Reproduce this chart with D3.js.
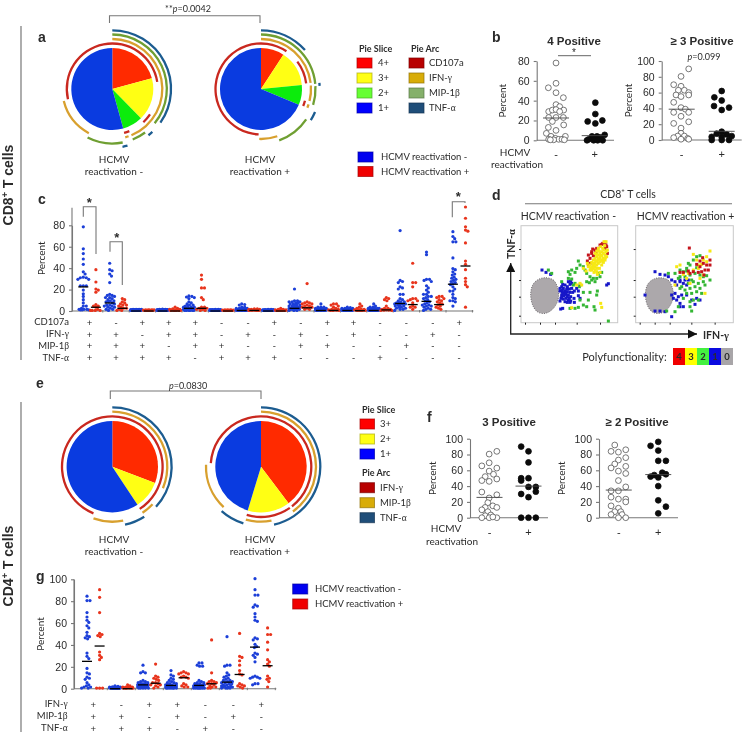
<!DOCTYPE html>
<html><head><meta charset="utf-8">
<script src="https://cdnjs.cloudflare.com/ajax/libs/d3/7.8.5/d3.min.js"></script>
<style>
html,body{margin:0;padding:0;background:#fff}
svg{display:block;filter:blur(.3px)}
text{fill:#2b2b2b}
.sans{font-family:"Liberation Sans",Arial,sans-serif}
.cal{font-family:Lato,"Open Sans",sans-serif}
</style></head><body><svg id="c" width="744" height="734"></svg>
<script>
// ---------- pie data (percent of responding cells) ----------
const pieA = [[20.8,16.9,8,54.3],[9.2,14.2,7.9,68.7]];
const pieE = [[30.8,9.9,59.3],[39.7,15,45.3]];
const sliceColorsA = ["#ff2a00","#ffff14","#0cec0c","#0a3be0"];
const sliceColorsE = ["#ff2a00","#ffff14","#0a3be0"];
const sliceNamesA = ["4+","3+","2+","1+"];
const sliceNamesE = ["3+","2+","1+"];
const arcNamesA = ["CD107a","IFN-γ","MIP-1β","TNF-α"];
const arcNamesE = ["IFN-γ","MIP-1β","TNF-α"];
// arc spans in degrees clockwise from 12 o'clock
const arcsAminus = [
  [[257,441],[124,137],[158,165]],
  [[0,157.5],[161,165],[208,256]],
  [[0,129],[143,158],[169,207]],
  [[0,125],[137,142],[165,170]]];
const arcsAplus = [
  [[183,394],[53,83],[105,112]],
  [[0,83],[86,104],[108,112],[161,182]],
  [[0,84.5],[87,107],[124,160.5]],
  [[0,48.5],[84,87],[113,122]]];
const arcsEminus = [
  [[202,507]],
  [[0,113],[133,146.7],[168.6,200]],
  [[0,132.5],[147.4,167.6]]];
const arcsEplus = [
  [[274,502],[145,196.5]],
  [[0,144.5],[169,196],[222.8,272]],
  [[0,167.3],[197.3,221.6]]];
const reactLabels = ["HCMV reactivation -","HCMV reactivation +"];

// ---------- scatter data: [jitter, percent] ----------
const b4Minus = [[0,78],[0,57.5],[-23,53],[0,48],[22,43],[0,36],[11,34],[23,30.5],[-22,29],[-11,30.5],[0,31],[11,29],[-22,23],[0,23],[22,23],[-11,19],[23,15.5],[-23,13],[0,10],[-29,7],[28,4],[-15,4],[-2,2],[-22,1],[8,1],[18,1],[25,0.5],[-7,0.5],[-17,0.5]];
const b4Plus = [[2,38],[2,26.5],[-21,19],[2,17],[23,20],[30,5.5],[-8,4],[7,4],[17,3],[-18,1],[-23,0],[-3,0],[9,0],[24,0]];
const b3Minus = [[21,90],[-2,80.5],[-24,70],[-2,68],[-10,63],[8,63],[21,60],[-17,57],[-2,55],[21,57],[-24,47.7],[-2,41],[11,39],[-24,35],[21,35],[-2,30],[21,23],[-24,21],[-2,15],[-2,8.5],[-12,5],[8,5],[-24,3],[18,2],[-2,1],[21,1]];
const b3Plus = [[0,62],[-22,54],[0,50],[-23,43],[22,41],[0,38],[0,10.5],[-15,8],[15,7],[-30,4],[30,5],[0,4],[-30,0],[0,0],[22,0]];
const f3Minus = [[22,84],[-1,80.5],[-23,65.6],[-1,69.5],[22,62.8],[-1,59],[12,55],[-13,52],[22,49],[-23,47],[-1,46],[-23,32.5],[22,29],[-1,25],[-5,19],[10,15],[22,13],[-13,13],[-23,10],[-5,7.6],[4,3.4],[-13,2.5],[-23,0],[-1,0],[22,0],[10,1]];
const f3Plus = [[-22,90],[0,84],[0,70],[-22,50],[0,50],[-22,47],[0,39],[22,39],[22,33],[-22,30],[0,26],[-22,0],[0,0],[22,0]];
const f2Minus = [[-12,92],[-23,84],[-1,83],[21,86],[21,76],[-1,73],[-12,68],[-23,63],[21,65],[-1,59],[21,56],[-1,47],[21,39],[-23,34],[-1,34],[-23,26],[-1,23.5],[21,23.5],[21,20],[-23,15],[-1,12],[-12,7.6],[6,7.6],[-23,4],[10,4],[-1,0],[21,0]];
const f2Plus = [[-23,91],[0,96],[0,85],[0,72],[23,72],[-23,52],[-12,54],[0,51],[12,57],[23,55],[0,40],[0,22],[23,14],[0,5.5]];
const swarmMedians = {b4:[22.5,4.7], b3:[39,11], f3:[25.7,40], f2:[35,54.6]};
const signLabels = ["-","+"];

// ---------- panel c ----------
const cBlue = [
  b4Minus.map(d=>d[1]),
  [44,38,37,34,32,26,15,14,14,13,12,12,11,10,9,9,8,8,7,6,5,5,4,4,3,3,2,1,1,0],
  [1,1,1,1,.8,.8,.8,.6,.6,.6,.5,.5,.5,.4,.4,.4,.3,.3,.3,.2,.2,.2,.1,.1,.1,0,0,0,0,0],
  [1.2,1,1,.8,.8,.7,.6,.6,.5,.5,.5,.4,.4,.4,.3,.3,.2,.2,.2,.1,.1,.1,0,0,0,0,0,0,0,0],
  [13.5,13,12.5,12,11,8,7,6,5,5,4,4,3,3,3,2,2,2,2,1,1,1,1,1,0,0,0,0,0,0],
  [1,1,.8,.8,.7,.6,.6,.5,.5,.5,.4,.4,.3,.3,.3,.2,.2,.2,.1,.1,.1,0,0,0,0,0,0,0,0,0],
  [6,5.5,5,3,3,2,2,2,2,1,1,1,1,1,.8,.6,.5,.5,.4,.3,.3,.2,.2,.1,.1,0,0,0,0,0],
  [1,1,.8,.7,.6,.6,.5,.5,.4,.4,.3,.3,.2,.2,.2,.1,.1,.1,0,0,0,0,0,0,0,0,0,0,0,0],
  [20,9,9,8,8,8,7,7,6,6,5,5,5,4,4,4,3,3,3,2,2,2,2,1,1,1,1,0,0,0],
  [6,3,3,3,2,2,2,2,2,1,1,1,1,1,1,.8,.8,.6,.6,.4,.4,.3,.2,.2,.1,.1,0,0,0,0],
  [3,2.5,2,2,2,1.5,1.5,1,1,1,1,.8,.8,.6,.6,.5,.4,.4,.3,.3,.2,.2,.1,.1,0,0,0,0,0,0],
  [6,4,3,3,2,2,2,2,1.5,1.5,1,1,1,1,.8,.8,.6,.5,.4,.3,.3,.2,.2,.1,0,0,0,0,0,0],
  [74.5,28,27,26,22,21,20,15,15,11,10,9,8,8,7,7,6,6,6,5,5,4,4,3,3,2,2,1,1,0],
  [54.5,52,29,29,28,27,23,21,19,17,15,15,13,13,12,11,10,9,8,7,6,5,5,4,4,3,2,1,1,0],
  [73.5,69,67,64,64,49,39,38,36,34,33,31,30,29,28,27,26,25,24,22,20,18,18,15,12,11,9,9,8,4]];
const cRed = [
  b4Plus.map(d=>d[1]),
  [11,10,8,7,6,5,5,4,3,2,2,1,0,0],
  [.6,.5,.5,.4,.3,.3,.2,.2,.1,.1,0,0,0,0],
  [3,2,1.5,1,1,.5,.4,.3,.2,.1,0,0,0,0],
  [33,29,21,21,12,10,3,3,2,2,1,1,0,0],
  [.5,.5,.4,.3,.3,.2,.2,.1,.1,0,0,0,0,0],
  [1.5,1.5,1,1,1,.5,.4,.3,.3,.2,.1,0,0,0],
  [2,1,1,.6,.5,.4,.3,.2,.1,0,0,0,0,0],
  [25,8,7,7,6,6,5,4,4,3,3,2,1,1],
  [6,6,5,4,3,2,1,1,.5,.4,.2,0,0,0],
  [6,4,3,2,1,1,.6,.5,.3,.2,.1,0,0,0],
  [12,11,10,9,4,2,2,1,1,.5,.3,.2,0,0],
  [44,26,26,22,11,11,10,9,9,7,4,3,3,1],
  [13,13,12,11,10,9,8,7,6,5,4,3,2,1],
  [96.5,86,78,75,74,63,46,43,38,30,27,24,22,3]];
const cMedBlue = [22.5,7.5,0,0,2.5,0,.5,0,2.5,.5,.5,.5,7,9,25];
const cMedRed = [3.5,2.5,0,0,2.5,0,.5,0,3,.5,.3,1,6,6,42];
const cRowNames = ["CD107a","IFN-γ","MIP-1β","TNF-α"];
const cRows = ["+-+++--+-++---+","++-++-+-+-+--+-","+++-++--++--+--","++++-+++---+---"];

// ---------- panel g ----------
const gBlue = [
  [84,80,80,69,65,62,60,57,55,51,48,47,46,45,32,29,27,18,14,13,10,9,8,5,3,2,1,1,0,0],
  [2,1.5,1.2,1,1,.8,.8,.7,.6,.6,.5,.5,.4,.4,.3,.3,.2,.2,.1,.1,0,0,0,0,0,0,0,0,0,0],
  [21,15,14,14,7,6,6,5,5,4,4,4,3,3,3,3,2,2,2,2,1,1,1,1,1,0,0,0,0,0],
  [16,12,11,9,8,7,6,5,5,4,4,3,3,3,2,2,2,2,1,1,1,1,1,0,0,0,0,0,0,0],
  [23,23,21,20,20,7,6,5,5,4,4,3,3,3,2,2,2,1,1,1,1,1,0,0,0,0,0,0,0,0],
  [47,21,21,20,14,12,11,10,9,8,7,7,6,6,5,5,4,4,3,3,2,2,2,1,1,1,0,0,0,0],
  [100,90,85,85,76,75,74,68,65,62,61,46,45,44,40,38,37,32,31,30,28,24,11,10,10,9,9,4,4,3]];
const gRed = [
  [90,83,69,50,49,48,47,33,30,28,26,0,0,0],
  [3,2,1,1,.8,.6,.5,.3,.2,.1,0,0,0,0],
  [22,11,10,9,8,7,5,5,4,3,3,2,1,0],
  [15,14,14,13,13,11,10,10,9,4,3,2,1,1],
  [44,14,7,6,6,5,4,4,3,2,1,1,0,0],
  [50,29,28,25,21,16,13,12,4,3,2,2,1,0],
  [55,49,49,42,35,26,24,22,20,11,9,8,6,1]];
const gMedBlue = [25,0,3.5,3,3,6,38];
const gMedRed = [39,0,5,10,4.5,13,21];
const gRowNames = ["IFN-γ","MIP-1β","TNF-α"];
const gRows = ["+-++--+","++-+-+-","+++-+--"];

// ---------- panel d events: [IFN channel, TNF channel] ----------
const dGateL = [[195,278],[220,285],[232,305],[236,330],[230,355],[215,375],[195,385],[175,382],[160,365],[152,330],[158,300],[172,285]];
const dGateR = [[539,278],[564,285],[576,305],[580,330],[574,355],[559,375],[539,385],[519,382],[504,365],[496,330],[502,300],[516,285]];
const dBlueL = [[245,305],[250,310],[255,300],[262,305],[270,298],[275,310],[240,318],[247,322],[255,318],[262,320],[270,322],[245,330],[252,332],[258,328],[265,330],[272,335],[243,340],[250,342],[258,340],[265,345],[272,348],[240,310],[248,298],[278,322],[283,318],[290,310],[255,350],[262,352],[270,352],[240,348],[247,315],[260,312],[268,312],[255,325],[250,325],[262,335],[245,336],[268,340],[275,295],[265,290],[272,288],[186,255],[198,262],[212,268],[282,340],[248,370],[242,372],[385,296],[380,300],[295,332],[300,340],[283,352],[300,300],[295,318]];
const dGreenL = [[265,260],[275,255],[270,268],[285,262],[295,228],[310,245],[300,240],[290,250],[315,255],[320,265],[330,275],[335,285],[345,290],[350,280],[360,275],[340,280],[320,290],[328,293],[265,280],[275,282],[285,295],[298,305],[310,322],[300,345],[330,322],[352,318],[350,330],[325,345],[295,367],[320,365],[342,365],[345,375],[385,408],[280,300],[245,290],[355,265],[365,262],[205,255],[215,265],[310,360],[270,370],[285,370]];
const dYellowL = [[340,250],[345,245],[350,240],[355,235],[360,230],[365,225],[370,220],[375,210],[378,200],[372,195],[365,200],[360,205],[355,210],[350,215],[345,220],[340,225],[335,232],[330,240],[325,245],[335,255],[342,262],[350,260],[358,250],[365,240],[370,232],[375,225],[380,215],[382,195],[360,218],[352,228],[345,235],[365,212],[358,222],[350,250],[340,240],[330,255],[322,235],[345,205],[350,198],[355,190],[362,185],[372,170],[378,170],[310,250],[318,258],[362,355],[365,367],[300,295],[305,300],[290,300],[275,368],[347,228],[355,222],[362,212],[370,205],[368,190],[374,182],[338,245],[345,255],[352,268],[360,262],[368,228],[340,235],[332,248],[376,218],[350,208],[357,198]];
const dRedL = [[368,175],[378,180],[360,180],[350,190],[345,195],[335,205],[325,210],[330,220],[322,228],[325,240],[375,190],[382,205],[380,185],[340,212],[348,200],[365,178],[330,235],[338,192],[335,200],[375,172]];
const dBlueR = [[525,260],[540,268],[555,270],[565,275],[575,285],[585,290],[600,290],[615,285],[590,300],[600,285],[575,330],[585,325],[595,335],[605,330],[620,330],[580,340],[590,345],[600,355],[610,365],[575,395],[525,378],[540,378],[555,380],[635,345],[650,340],[660,345],[645,358],[600,365],[495,330],[610,295],[625,285],[620,300]];
const dGreenR = [[585,265],[600,255],[610,260],[620,250],[630,240],[640,225],[650,215],[660,212],[600,275],[615,275],[630,270],[645,265],[660,270],[670,275],[690,285],[595,280],[605,305],[625,295],[640,290],[655,295],[670,290],[615,315],[630,310],[645,305],[660,310],[675,300],[620,325],[635,325],[650,320],[600,310],[610,340],[630,350],[640,345],[655,345],[595,365],[630,365],[635,378],[665,325],[560,378],[585,380],[620,258],[635,285],[680,272],[565,265],[625,235],[650,248]];
const dYellowR = [[590,245],[600,240],[610,268],[625,265],[640,255],[655,240],[670,225],[680,215],[690,198],[665,238],[650,225],[630,295],[675,325],[585,300],[640,208],[655,250],[670,270],[620,280],[660,280],[680,230]];
const dRedR = [[628,189],[650,238],[660,245],[670,235],[680,240],[690,240],[665,260],[675,255],[685,255],[672,270],[610,262],[625,258],[640,260],[630,265],[655,262],[690,225],[600,262],[668,218],[660,228]];
const polyLevels = ["4","3","2","1","0"];
const polyColors = ["#f00000","#ffff00","#44f040","#0a0ae0","#a8a5a8"];
const eventColors = {red:"#c4141c",yellow:"#f6e814",green:"#34b634",blue:"#1616c8"};

// ---------- drawing ----------
const GRAY="#777", svg=d3.select("#c");
const GREEK=/([αβγ])/;
function txt(g,x,y,s,o={}){
  const t=g.append("text").attr("x",x).attr("y",y).attr("class",o.cls||"cal")
    .attr("font-size",o.size||10).attr("text-anchor",o.anchor||"start")
    .attr("font-weight",o.weight||null);
  if(o.rotate) t.attr("transform",`rotate(${o.rotate} ${x} ${y})`);
  s.split(GREEK).forEach(p=>{ if(!p) return;
    const sp=t.append("tspan").text(p);
    if(GREEK.test(p)) sp.attr("font-family","Liberation Serif, DejaVu Serif, serif");
  });
  return t;
}
function pieChart(cx,cy,r,values,colors,rings,ringR){
  const g=svg.append("g").attr("transform",`translate(${cx},${cy})`);
  const pie=d3.pie().sort(null);
  const arc=d3.arc().innerRadius(0).outerRadius(r);
  g.selectAll("path.s").data(pie(values)).join("path").attr("class","s")
    .attr("d",arc).attr("fill",(d,i)=>colors[i]);
  const ang=d3.scaleLinear().domain([0,360]).range([0,2*Math.PI]);
  rings.forEach((spans,i)=>{
    const ra=d3.arc().innerRadius(ringR[i].r-1.15).outerRadius(ringR[i].r+1.15);
    g.selectAll(null).data(spans).join("path")
      .attr("d",d=>ra({startAngle:ang(d[0]),endAngle:ang(d[1])}))
      .attr("fill",ringR[i].c);
  });
}
const RC={cd:"#c9281f",ifn:"#d8a02e",mip:"#6f9f32",tnf:"#1c5c90"};
const ringsA=[{r:45.5,c:RC.cd},{r:50,c:RC.ifn},{r:54.5,c:RC.mip},{r:58.7,c:RC.tnf}];
const ringsE=[{r:50.3,c:RC.cd},{r:55,c:RC.ifn},{r:59.3,c:RC.tnf}];
pieChart(112.3,89,41,pieA[0],sliceColorsA,arcsAminus,ringsA);
pieChart(261,89,41,pieA[1],sliceColorsA,arcsAplus,ringsA);
pieChart(112.3,466.7,45.7,pieE[0],sliceColorsE,arcsEminus,ringsE);
pieChart(261,466.7,45.7,pieE[1],sliceColorsE,arcsEplus,ringsE);

function bracket(x0,x1,yTop,y0,y1){
  svg.append("path").attr("d",d3.line()([[x0,y0],[x0,yTop],[x1,yTop],[x1,y1]]))
    .attr("fill","none").attr("stroke",GRAY).attr("stroke-width",1.1);
}
function pText(x,y,pre,rest,size=9){
  const t=svg.append("text").attr("x",x).attr("y",y).attr("class","cal").attr("font-size",size).attr("text-anchor","middle");
  t.append("tspan").text(pre);t.append("tspan").attr("font-style","italic").text("p");t.append("tspan").text(rest);
}
bracket(109.5,260,15.7,23,23); pText(188,12,"**","=0.0042");
bracket(110.3,261,391,399,399); pText(188,389,"","=0.0830");

[[114,160,172,0],[260,160,172,1]].forEach(([x,a,b,i])=>{
  txt(svg,x,a+3,"HCMV",{anchor:"middle",size:10});
  txt(svg,x,b+3,"reactivation "+signLabels[i],{anchor:"middle",size:10});
  txt(svg,x,543,"HCMV",{anchor:"middle",size:10});
  txt(svg,x,555,"reactivation "+signLabels[i],{anchor:"middle",size:10});
});
// side rails
svg.append("line").attr("x1",21).attr("x2",21).attr("y1",26).attr("y2",360).attr("stroke",GRAY).attr("stroke-width",1.2);
svg.append("line").attr("x1",21).attr("x2",21).attr("y1",402).attr("y2",732).attr("stroke",GRAY).attr("stroke-width",1.2);
function cellsLabel(x,y,s,cls){
  const t=svg.append("text").attr("transform",`translate(${x},${y}) rotate(-90)`).attr("class",cls||"sans")
    .attr("font-size",14).attr("font-weight","bold").attr("text-anchor","middle");
  t.append("tspan").text(s);
  t.append("tspan").attr("dy",-5).attr("font-size",9).text("+");
  t.append("tspan").attr("dy",5).text(" T cells");
}
cellsLabel(13,185,"CD8"); cellsLabel(13,566,"CD4");
[["a",38,42],["b",492,42],["c",38,204],["d",492,200],["e",36,388],["f",427,422],["g",36,581]].forEach(([s,x,y])=>
  txt(svg,x,y,s,{cls:"sans",size:14,weight:"bold"}));

function swatch(x,yc,c,w=15,h=10){
  svg.append("rect").attr("x",x).attr("y",yc-h/2).attr("width",w).attr("height",h)
    .attr("fill",c).attr("stroke",d3.color(c).darker(1.1)).attr("stroke-opacity",.7);
}
function legendCol(title,x,yTitle,names,colors,yRow0,dy,labelDx,swW){
  txt(svg,x+2,yTitle,title,{size:9,weight:"bold"});
  names.forEach((n,i)=>{swatch(x,yRow0+i*dy,colors[i],swW);txt(svg,x+labelDx,yRow0+i*dy+3,n,{size:9.5});});
}
const legSlice=["#ff0000","#ffff14","#66ff33","#0000ff"], legSliceE=["#ff0000","#ffff14","#0000ff"];
const legArc=["#b80000","#d8ac08","#85b06a","#1f4e79"], legArcE=["#b80000","#d8ac08","#1f4e79"];
legendCol("Pie Slice",357,52,sliceNamesA,legSlice,63,15,21,15);
legendCol("Pie Arc",409,52,arcNamesA,legArc,63,15,20,15);
legendCol("Pie Slice",360,413,sliceNamesE,legSliceE,424,15,20,14.5);
legendCol("Pie Arc",360,476,arcNamesE,legArcE,487.7,15,20,14.5);
const reactColors=["#0000f0","#f00000"];
reactLabels.forEach((n,i)=>{
  swatch(358,157+i*14.5,reactColors[i]); txt(svg,381,160+i*14.5,n,{size:9.5});
  swatch(292.7,589+i*15,reactColors[i]); txt(svg,315,592+i*15,n,{size:9.5});
});

function styleAxis(g){
  g.selectAll("path,line").attr("stroke",GRAY).attr("stroke-width",1.1);
  g.selectAll("text").attr("class","sans").attr("font-size",10.5).attr("font-family",null).attr("fill","#2b2b2b");
}
function yAxisAt(x,scale,ticks,labelDx){
  const g=svg.append("g").attr("transform",`translate(${x},0)`)
    .call(d3.axisLeft(scale).tickValues(ticks).tickSize(3).tickSizeOuter(0).tickPadding(labelDx||3));
  styleAxis(g); return g;
}
// Swarm panels b, f
function swarm(cfg){
  const y=d3.scaleLinear().domain([0,cfg.max]).range([cfg.y0,cfg.y1]);
  const x=d3.scalePoint().domain(signLabels).range([cfg.ax,cfg.end]).padding(.5);
  const jit=d3.scaleLinear().domain([0,3]).range([0,1]);
  yAxisAt(cfg.ax,y,cfg.ticks,cfg.pad);
  svg.append("line").attr("x1",cfg.ax).attr("x2",cfg.end).attr("y1",cfg.y0).attr("y2",cfg.y0).attr("stroke",GRAY).attr("stroke-width",1.1);
  txt(svg,cfg.titleX,cfg.titleY,cfg.title,{cls:"sans",size:11.5,weight:"bold",anchor:"middle"});
  txt(svg,cfg.ax-cfg.pctDx,(cfg.y0+cfg.y1)/2,"Percent",{size:10,anchor:"middle",rotate:-90});
  signLabels.forEach((s,i)=>{
    const cx=x(s);
    txt(svg,cx,cfg.y0+18,s,{cls:"sans",size:11,anchor:"middle"});
    svg.selectAll(null).data(cfg.series[i]).join("circle")
      .attr("cx",d=>cx+jit(d[0])).attr("cy",d=>y(d[1])).attr("r",2.9)
      .attr("fill",i?"#0b0b0b":"#fff").attr("stroke",i?"#0b0b0b":"#555").attr("stroke-width",.8);
    svg.append("line").attr("x1",cx-13).attr("x2",cx+13).attr("y1",y(cfg.med[i])).attr("y2",y(cfg.med[i])).attr("stroke","#444").attr("stroke-width",.9);
  });
}
swarm({title:"4 Positive",titleX:574,titleY:45,max:80,ticks:[0,20,40,60,80],ax:536.7,end:614,y0:140.3,y1:61,pctDx:31,pad:4,series:[b4Minus,b4Plus],med:swarmMedians.b4});
swarm({title:"≥ 3 Positive",titleX:702,titleY:45,max:100,ticks:[0,20,40,60,80,100],ax:661.7,end:741.7,y0:140,y1:61,pctDx:30,pad:4,series:[b3Minus,b3Plus],med:swarmMedians.b3});
swarm({title:"3 Positive",titleX:509,titleY:426,max:100,ticks:[0,20,40,60,80,100],ax:470,end:548,y0:517.7,y1:438.7,pctDx:34,pad:4,series:[f3Minus,f3Plus],med:swarmMedians.f3});
swarm({title:"≥ 2 Positive",titleX:637,titleY:426,max:100,ticks:[0,20,40,60,80,100],ax:599,end:678,y0:517.7,y1:438.7,pctDx:34,pad:4,series:[f2Minus,f2Plus],med:swarmMedians.f2});
txt(svg,515,156,"HCMV",{size:10,anchor:"middle"}); txt(svg,517,168,"reactivation",{size:10,anchor:"middle"});
txt(svg,446,532,"HCMV",{size:10,anchor:"middle"}); txt(svg,452,545,"reactivation",{size:10,anchor:"middle"});
svg.append("line").attr("x1",558).attr("x2",591).attr("y1",55.7).attr("y2",55.7).attr("stroke","#666").attr("stroke-width",1);
txt(svg,574,56,"*",{cls:"sans",size:10,anchor:"middle"});
pText(704,60,"","=0.099");

// Dodge layout for the dot strips: each dot goes to the free offset nearest the group centre
function dodge(values,y,maxW,d){
  const placed=[];
  return values.slice().sort((a,b)=>b-a).map(v=>{
    const py=y(v); let best=0,bestD=-1;
    for(let k=0;k<=2*maxW/.6;k++){
      const off=(k%2?1:-1)*Math.ceil(k/2)*.6;
      const m=placed.reduce((acc,p)=>Math.min(acc,Math.hypot(p[0]-off,p[1]-py)),Infinity);
      if(m>=d){best=off;bestD=m;break;}
      if(m>bestD){best=off;bestD=m;}
    }
    placed.push([best,py]);
    return {v,off:best};
  });
}
function strip(cfg){
  const y=d3.scaleLinear().domain([0,cfg.scaleTop]).range([cfg.y0,cfg.yTop]);
  const idx=d3.range(cfg.blue.length);
  const x=d3.scalePoint().domain(idx).range([cfg.x0,cfg.x1]).padding(.5);
  const g=yAxisAt(cfg.ax,y,cfg.ticks,4);
  svg.append("line").attr("x1",cfg.ax).attr("x2",cfg.ax).attr("y1",cfg.y0).attr("y2",cfg.axTop).attr("stroke",GRAY).attr("stroke-width",1.1);
  svg.append("line").attr("x1",cfg.ax).attr("x2",cfg.x1+1).attr("y1",cfg.y0).attr("y2",cfg.y0).attr("stroke",GRAY).attr("stroke-width",1.1);
  svg.selectAll(null).data(idx).join("line").attr("x1",d=>x(d)+x.step()/2).attr("x2",d=>x(d)+x.step()/2)
    .attr("y1",cfg.y0-1).attr("y2",cfg.y0+1.5).attr("stroke",GRAY);
  idx.forEach(i=>{
    [[cfg.blue[i],cfg.medB[i],-cfg.off,"#1c3fd8"],[cfg.red[i],cfg.medR[i],cfg.off,"#e8341c"]].forEach(([vals,med,o,c])=>{
      const cx=x(i)+o;
      svg.selectAll(null).data(dodge(vals,y,5.5,2.5)).join("circle")
        .attr("cx",d=>cx+d.off).attr("cy",d=>y(d.v)-.6).attr("r",1.6).attr("fill",c);
      svg.append("line").attr("x1",cx-5).attr("x2",cx+5).attr("y1",y(med)).attr("y2",y(med)).attr("stroke","#000").attr("stroke-width",1.3);
    });
  });
  cfg.rowNames.forEach((n,r)=>{
    const yy=cfg.rowY0+r*cfg.rowDy;
    txt(svg,cfg.labelX,yy+3,n,{size:9.5,anchor:"end"});
    idx.forEach(i=>txt(svg,x(i),yy+3.5,cfg.rows[r][i],{cls:"sans",size:9.5,anchor:"middle"}));
  });
  txt(svg,cfg.pctX,(cfg.y0+cfg.yTop)/2+(cfg.pctShift||0),"Percent",{size:10,anchor:"middle",rotate:-90});
}
strip({blue:cBlue,red:cRed,medB:cMedBlue,medR:cMedRed,rows:cRows,rowNames:cRowNames,y0:311,yTop:225.3,scaleTop:80,ticks:[0,20,40,60,80],
  ax:72,axTop:207.7,x0:76.4,x1:472.4,off:6.3,rowY0:322.3,rowDy:11.8,labelX:69,pctX:45,pctShift:-10});
strip({blue:gBlue,red:gRed,medB:gMedBlue,medR:gMedRed,rows:gRows,rowNames:gRowNames,y0:688.7,yTop:579.3,scaleTop:100,ticks:[0,20,40,60,80,100],
  ax:74,axTop:579.3,x0:79.3,x1:275.3,off:6.3,rowY0:704.3,rowDy:11.9,labelX:67.7,pctX:44});
bracket(83.3,96,206.7,216.7,254); txt(svg,89.3,207,"*",{cls:"sans",size:13,anchor:"middle",weight:"bold"});
bracket(110,122.3,241.7,251.7,285); txt(svg,116.7,242,"*",{cls:"sans",size:13,anchor:"middle",weight:"bold"});
bracket(452.3,465,201.7,217.3,203); txt(svg,458.3,201,"*",{cls:"sans",size:13,anchor:"middle",weight:"bold"});

// Panel d
txt(svg,628,198,"CD8⁺ T cells",{size:10.5,anchor:"middle"});
svg.append("line").attr("x1",525).attr("x2",732).attr("y1",203.7).attr("y2",203.7).attr("stroke",GRAY).attr("stroke-width",1.1);
function flow(cfg){
  const x=d3.scaleLinear().domain(cfg.dx).range([cfg.x0,cfg.x1]);
  const y=d3.scaleLinear().domain([122,413]).range([225.7,322.7]);
  const g=svg.append("g");
  g.append("rect").attr("x",cfg.x0).attr("y",225.7).attr("width",cfg.x1-cfg.x0).attr("height",97).attr("fill","#fff").attr("stroke","#c8c8c8");
  const ax=svg.append("g").attr("transform",`translate(${cfg.x0},0)`).call(d3.axisLeft(y).tickValues([192,285,335,392]).tickSize(2).tickFormat(""));
  const bx=svg.append("g").attr("transform",`translate(0,322.7)`).call(d3.axisBottom(x).tickValues(cfg.ticks).tickSize(2).tickFormat(""));
  [ax,bx].forEach(a=>{a.select("path").remove();a.selectAll("line").attr("stroke","#222");});
  const line=d3.line().x(d=>x(d[0])).y(d=>y(d[1])).curve(d3.curveCatmullRomClosed);
  g.append("path").attr("d",line(cfg.gate)).attr("fill","#aca8ab").attr("stroke","#6a666a").attr("stroke-width",1).attr("stroke-dasharray","1 1.4");
  cfg.sets.forEach(([pts,c])=>{
    g.selectAll(null).data(pts).join("rect").attr("x",d=>x(d[0])-1.5).attr("y",d=>y(d[1])-1.5)
      .attr("width",3).attr("height",3).attr("fill",c);
  });
  txt(svg,(cfg.x0+cfg.x1)/2+cfg.titleDx,219.5,cfg.title,{size:10.5,anchor:"middle"});
}
flow({dx:[123,413],x0:521,x1:617.7,gate:dGateL,title:reactLabels[0],titleDx:-1,ticks:[135,180,225,290,360],
  sets:[[dBlueL,eventColors.blue],[dGreenL,eventColors.green],[dRedL,eventColors.red],[dYellowL,eventColors.yellow]]});
flow({dx:[467,760],x0:635.7,x1:733.3,gate:dGateR,title:reactLabels[1],titleDx:1,ticks:[479,524,569,634,704],
  sets:[[dBlueR,eventColors.blue],[dGreenR,eventColors.green],[dYellowR,eventColors.yellow],[dRedR,eventColors.red]]});
svg.append("defs").append("marker").attr("id","ah").attr("viewBox","0 0 8 8").attr("refX",8).attr("refY",4).attr("markerWidth",7).attr("markerHeight",7).attr("orient","auto")
  .append("path").attr("d","M0 0L8 4L0 8Z").attr("fill","#111");
svg.append("path").attr("d",d3.line()([[510.7,263],[510.7,334],[697,334]])).attr("fill","none").attr("stroke","#222").attr("stroke-width",1.3)
  .attr("marker-start","url(#ah2)").attr("marker-end","url(#ah)");
svg.select("defs").append("marker").attr("id","ah2").attr("viewBox","0 0 8 8").attr("refX",0).attr("refY",4).attr("markerWidth",7).attr("markerHeight",7).attr("orient","auto")
  .append("path").attr("d","M8 0L0 4L8 8Z").attr("fill","#111");
txt(svg,515,244,"TNF-α",{size:10.5,weight:"bold",anchor:"middle",rotate:-90});
txt(svg,703,339,"IFN-γ",{size:10.5,weight:"bold"});
txt(svg,666.7,361,"Polyfunctionality:",{size:11,anchor:"end"});
const polyX=d3.scaleBand().domain(polyLevels).range([673,733]);
svg.selectAll(null).data(polyLevels).join("rect").attr("x",d=>polyX(d)).attr("y",348).attr("width",polyX.bandwidth()).attr("height",17)
  .attr("fill",(d,i)=>polyColors[i]);
polyLevels.forEach(l=>txt(svg,polyX(l)+6,360,l,{size:9.5,weight:"bold",anchor:"middle"}));
</script></body></html>
